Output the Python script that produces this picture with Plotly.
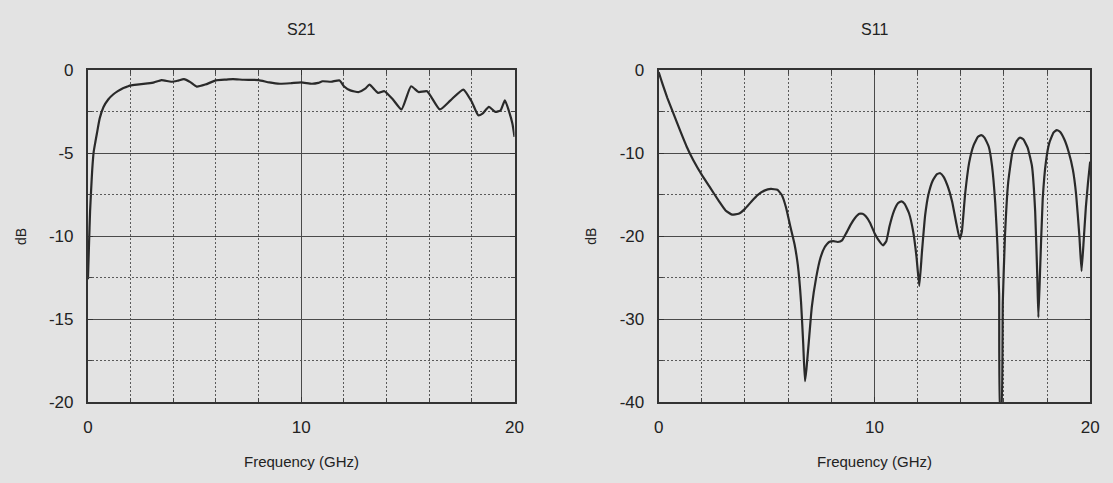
import plotly.graph_objects as go

W, H = 1113, 483

# S21 (left panel)
s21_freq = [0.0, 0.05, 0.1, 0.15, 0.2, 0.27, 0.35, 0.42, 0.55, 0.73, 0.95, 1.18, 1.4, 1.64, 1.85, 2.0, 2.4,
            2.8, 3.1, 3.45, 3.9, 4.2, 4.5, 4.8, 5.1, 5.5, 6.0, 6.5, 6.8, 7.3, 8.0, 8.5, 9.0, 9.5,
            10.0, 10.5, 10.8, 11.0, 11.4, 11.8, 12.0, 12.3, 12.7, 13.0, 13.2, 13.6, 13.9,
            14.3, 14.7, 15.15, 15.5, 15.9, 16.5, 17.0, 17.6, 18.0, 18.3, 18.5, 18.8, 19.1,
            19.35, 19.55, 19.75, 19.9, 20.0]
s21_db = [-12.6, -10.5, -8.5, -7.2, -6.0, -4.9, -4.3, -3.8, -2.9, -2.2, -1.75, -1.45, -1.25, -1.07, -0.97, -0.9, -0.84,
          -0.78, -0.72, -0.58, -0.68, -0.62, -0.52, -0.7, -0.97, -0.85, -0.6, -0.55, -0.52, -0.56, -0.58, -0.72, -0.8, -0.77,
          -0.72, -0.8, -0.75, -0.65, -0.68, -0.6, -0.95, -1.2, -1.3, -1.1, -0.85, -1.35, -1.25,
          -1.75, -2.35, -0.95, -1.3, -1.25, -2.35, -1.8, -1.15, -1.9, -2.7, -2.6, -2.2, -2.5,
          -2.4, -1.8, -2.5, -3.2, -4.0]

# S11 (right panel)
s11_freq = [0.0, 0.1, 0.2, 0.4, 0.7, 1.0, 1.3, 1.6, 2.0, 2.4, 2.8, 3.1, 3.4, 3.7, 4.0, 4.3, 4.6, 4.9,
            5.2, 5.5, 5.7, 5.9, 6.1, 6.3, 6.45, 6.6, 6.7, 6.78, 6.85, 6.95, 7.1, 7.3, 7.5, 7.7,
            7.9, 8.1, 8.3, 8.5, 8.7, 8.9, 9.1, 9.3, 9.45, 9.6, 9.8, 10.0, 10.2, 10.4, 10.55,
            10.7, 10.9, 11.1, 11.25, 11.4, 11.6, 11.8, 11.95, 12.08, 12.2, 12.35, 12.5, 12.7,
            12.9, 13.05, 13.2, 13.4, 13.6, 13.8, 13.95, 14.05, 14.2, 14.4, 14.6, 14.8, 14.95,
            15.1, 15.3, 15.45, 15.6, 15.7, 15.78, 15.83, 15.88, 15.95, 16.05, 16.2, 16.4, 16.6,
            16.75, 16.9, 17.1, 17.3, 17.45, 17.55, 17.6, 17.68, 17.8, 17.95, 18.1, 18.3, 18.45,
            18.6, 18.8, 19.0, 19.2, 19.35, 19.5, 19.6, 19.7, 19.8, 19.9, 20.0]
s11_db = [-0.2, -1.0, -1.8, -3.3, -5.3, -7.3, -9.2, -10.8, -12.6, -14.2, -15.8, -16.9, -17.4, -17.3, -16.7, -15.8, -15.0, -14.5,
          -14.3, -14.4, -15.0, -16.5, -18.8, -21.0, -23.5, -28.0, -33.0, -37.5, -36.0, -33.0, -28.5, -25.0, -22.6, -21.3,
          -20.7, -20.6, -20.7, -20.5, -19.6, -18.6, -17.8, -17.3, -17.3, -17.6, -18.4, -19.6, -20.5, -21.1, -20.6,
          -18.8, -17.0, -16.0, -15.8, -16.1, -17.2, -19.5, -22.5, -26.0, -22.0, -17.5, -15.0, -13.3,
          -12.5, -12.4, -12.8, -14.0, -15.8, -18.5, -20.3, -19.5, -15.0, -11.0, -9.0, -8.0, -7.8,
          -8.1, -9.2, -11.5, -16.0, -21.0, -27.0, -41.0, -41.0, -28.0, -20.0, -13.5, -9.8, -8.5,
          -8.1, -8.3, -9.3, -11.5, -17.0, -25.0, -29.8, -24.0, -15.5, -11.0, -8.8, -7.5, -7.2,
          -7.4, -8.3, -9.8, -12.0, -15.0, -20.0, -24.2, -20.5, -16.5, -13.5, -11.0]

x_ticks = [0, 10, 20]
s21_yticks = [0, -5, -10, -15, -20]
s11_yticks = [0, -10, -20, -30, -40]

bg = "#e3e3e3"
ink = "#2a2a2a"
font = "Liberation Sans, Arial, sans-serif"

# pixel geometry
L1, R1 = 84, 516
L2, R2 = 662, 1099
TOP, BOT = 64, 409

def px(x):
    return x / W

def py(y):
    return (H - y) / H

fig = go.Figure()
fig.add_trace(go.Scatter(x=s21_freq, y=s21_db, mode="lines", xaxis="x", yaxis="y",
                         line=dict(color=ink, width=2.2, shape="spline", smoothing=0.5),
                         showlegend=False))
fig.add_trace(go.Scatter(x=s11_freq, y=s11_db, mode="lines", xaxis="x2", yaxis="y2",
                         line=dict(color=ink, width=2.2, shape="spline", smoothing=0.4),
                         showlegend=False))

minor_style = dict(showgrid=True, griddash="2px,2px", gridcolor="#5a5a5a", gridwidth=1,
                   ticks="inside", ticklen=4, tickcolor="#444")

def xaxis(dom, anchor):
    return dict(domain=dom, anchor=anchor, range=[0, 20], tickvals=x_ticks,
                ticktext=[str(v) for v in x_ticks],
                showgrid=True, gridcolor="#4a4a4a", gridwidth=1,
                zeroline=False, showline=True, linecolor="#333", linewidth=2, mirror="ticks",
                ticks="inside", ticklen=5, tickcolor="#333", ticklabelstandoff=9,
                tickfont=dict(family=font, size=17, color="#222"),
                minor=dict(tickvals=[2, 4, 6, 8, 12, 14, 16, 18], **minor_style),
                fixedrange=True)

def yaxis(rng, vals, minors, anchor):
    return dict(domain=[py(BOT), py(TOP)], anchor=anchor, range=rng, tickvals=vals,
                ticktext=[str(v) for v in vals],
                showgrid=True, gridcolor="#4a4a4a", gridwidth=1,
                zeroline=False, showline=True, linecolor="#333", linewidth=2, mirror="ticks",
                ticks="inside", ticklen=5, tickcolor="#333", ticklabelstandoff=9,
                tickfont=dict(family=font, size=17, color="#222"),
                minor=dict(tickvals=minors, **minor_style),
                fixedrange=True)

fig.update_layout(
    width=W, height=H,
    margin=dict(l=0, r=0, t=0, b=0),
    paper_bgcolor=bg, plot_bgcolor=bg,
    xaxis=xaxis([px(L1), px(R1)], "y"),
    yaxis=yaxis([-20, 0], s21_yticks, [-2.5, -7.5, -12.5, -17.5], "x"),
    xaxis2=xaxis([px(L2), px(R2)], "y2"),
    yaxis2=yaxis([-40, 0], s11_yticks, [-5, -15, -25, -35], "x2"),
    font=dict(family=font, color="#222"),
)

ann = []
for (L, R, title) in [(L1, R1, "S21"), (L2, R2, "S11")]:
    ann.append(dict(text=title, x=px((L + R) / 2), y=py(21), xref="paper", yref="paper",
                    showarrow=False, xanchor="center", yanchor="middle",
                    font=dict(family=font, size=16, color="#222")))
    ann.append(dict(text="Frequency (GHz)", x=px((L + R) / 2), y=py(471), xref="paper", yref="paper",
                    showarrow=False, xanchor="center", yanchor="middle",
                    font=dict(family=font, size=15, color="#222")))
    ann.append(dict(text="dB", x=px(L - 68), y=py((TOP + BOT) / 2), xref="paper", yref="paper",
                    showarrow=False, xanchor="center", yanchor="middle", textangle=-90,
                    font=dict(family=font, size=14, color="#222")))
fig.update_layout(annotations=ann)

fig.write_html("out.html")
